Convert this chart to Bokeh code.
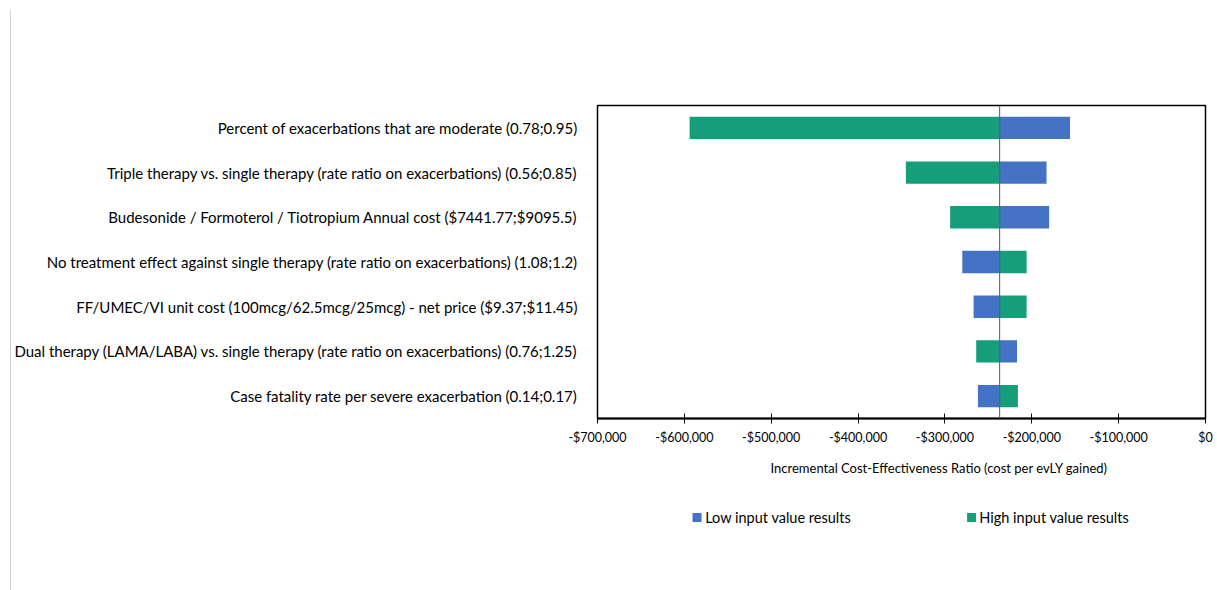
from bokeh.plotting import figure
from bokeh.models import (FactorRange, Range1d, FixedTicker, Span, Title,
                          ColumnDataSource, Div)
from bokeh.core.properties import value
from bokeh.layouts import row, column
from bokeh.embed import file_html
from bokeh.resources import INLINE

# ---------------- data ----------------
parameters = [
    "Percent of exacerbations that are moderate (0.78;0.95)",
    "Triple therapy vs. single therapy (rate ratio on exacerbations) (0.56;0.85)",
    "Budesonide / Formoterol / Tiotropium Annual cost ($7441.77;$9095.5)",
    "No treatment effect against single therapy (rate ratio on exacerbations) (1.08;1.2)",
    "FF/UMEC/VI unit cost (100mcg/62.5mcg/25mcg) - net price ($9.37;$11.45)",
    "Dual therapy (LAMA/LABA) vs. single therapy (rate ratio on exacerbations) (0.76;1.25)",
    "Case fatality rate per severe exacerbation (0.14;0.17)",
]
base_case = -237000
low_input_results = [-156000, -183000, -180000, -280000, -267000, -217000, -262000]
high_input_results = [-594000, -345000, -294000, -206000, -206000, -264000, -216000]

tick_values = [-700000, -600000, -500000, -400000, -300000, -200000, -100000, 0]
tick_labels = ["-$700,000", "-$600,000", "-$500,000", "-$400,000",
               "-$300,000", "-$200,000", "-$100,000", "$0"]

x_title = "Incremental Cost-Effectiveness Ratio (cost per evLY gained)"
series_names = ["Low input value results", "High input value results"]
colors = ["#4472C4", "#169E7A"]

FONT = "Lato"

src = ColumnDataSource(dict(
    param=parameters,
    base=[base_case] * len(parameters),
    low=low_input_results,
    high=high_input_results,
))

W = 1206
H_MAIN, H_LEG = 490, 100

p = figure(width=W, height=H_MAIN,
           y_range=FactorRange(factors=list(reversed(parameters))),
           x_range=Range1d(tick_values[0], tick_values[-1]),
           output_backend="svg", toolbar_location=None,
           min_border_left=578, min_border_right=12,
           min_border_top=105, min_border_bottom=72)

r_low = p.hbar(y="param", left="base", right="low", height=0.5, source=src,
               fill_color=colors[0], line_color=None)
r_high = p.hbar(y="param", left="base", right="high", height=0.5, source=src,
                fill_color=colors[1], line_color=None)

p.add_layout(Span(location=base_case, dimension="height",
                  line_color="#595959", line_width=1))

p.grid.visible = False
p.outline_line_color = "black"
p.outline_line_width = 1.5

# y axis (category labels)
ya = p.yaxis[0]
ya.axis_line_color = None
ya.major_tick_line_color = None
ya.minor_tick_line_color = None
ya.major_label_text_font = FONT
ya.major_label_text_font_size = "15px"
ya.major_label_text_color = "#000000"
ya.major_label_standoff = 14

# x axis
xa = p.xaxis[0]
xa.ticker = FixedTicker(ticks=tick_values)
xa.major_label_overrides = {v: l for v, l in zip(tick_values, tick_labels)}
xa.axis_line_color = "black"
xa.axis_line_width = 2
xa.major_tick_line_color = "black"
xa.major_tick_line_width = 1
xa.major_tick_in = 5
xa.major_tick_out = 5
xa.minor_tick_line_color = None
xa.major_label_text_font = FONT
xa.major_label_text_font_size = "12.5px"
xa.major_label_text_color = "#000000"
xa.major_label_standoff = 6

p.add_layout(Title(text=x_title, align="left", offset=173, standoff=21,
                   text_font=FONT, text_font_size="13px",
                   text_font_style="normal", text_color="#000000"), "below")

# ---- legend strip (small figure below the chart, sharing the x scale) ----
q = figure(width=W, height=H_LEG, x_range=p.x_range, y_range=Range1d(H_LEG, 0),
           output_backend="svg", toolbar_location=None,
           min_border_left=0, min_border_right=0, min_border_top=0, min_border_bottom=0)
q.axis.visible = False
q.grid.visible = False
q.outline_line_color = None

leg_src = ColumnDataSource(dict(
    sx=[-585400, -269300],
    tx=[-576000, -260400],
    y=[27, 27],
    label=series_names,
    color=colors,
))
q.scatter(x="sx", y="y", marker="square", size=9, fill_color="color",
          line_color=None, source=leg_src)
q.text(x="tx", y="y", text="label", text_baseline="middle", text_align="left",
       text_font=value(FONT), text_font_size="14.5px", text_color="#000000",
       source=leg_src)

edge = Div(width=11, height=580, margin=(10, 0, 0, 0),
           styles={"border-right": "1px solid #d0d0d0", "box-sizing": "border-box"})
layout = row(edge, column(p, q, spacing=0), spacing=0)

open("out.html", "w").write(file_html(layout, INLINE))
